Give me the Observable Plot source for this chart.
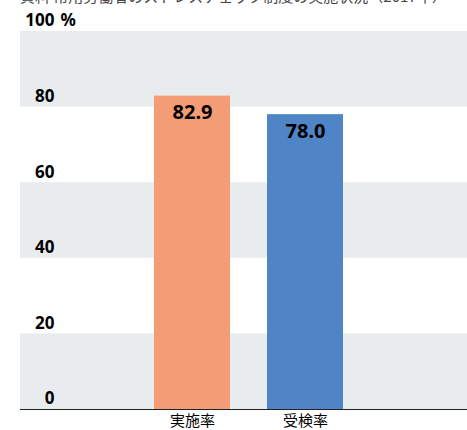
<!DOCTYPE html>
<html>
<head>
<meta charset="utf-8">
<script src="https://cdn.jsdelivr.net/npm/d3@7"></script>
<script src="https://cdn.jsdelivr.net/npm/@observablehq/plot@0.6"></script>
<style>
  html, body { margin: 0; padding: 0; background: #fff; }
  #title { height: 8px; overflow: hidden; position: relative; }
  #title span { position: absolute; left: 20px; top: -13px; font: 15px "Noto Sans CJK JP", sans-serif; color: #444; white-space: nowrap; line-height: 18px; }
  svg { display: block; }
</style>
</head>
<body>
<div id="title"><span>資料 常用労働者のストレスチェック制度の実施状況（2017年）</span></div>
<div id="chart"></div>
<script>
const categories = ["実施率", "受検率"];
const values = [82.9, 78.0];
const barColors = ["#F49C76", "#4F84C6"];
const yTicks = [0, 20, 40, 60, 80, 100];
const bandStarts = [0, 40, 80];
const bandSize = 20;

const data = categories.map((c, i) => ({name: c, value: values[i]}));
const bands = bandStarts.map(s => ({y1: s, y2: s + bandSize}));

const chart = Plot.plot({
  width: 467,
  height: 422,
  marginLeft: 20,
  marginRight: 0,
  marginTop: 23,
  marginBottom: 21,
  style: {fontFamily: "'Noto Sans', 'Noto Sans CJK JP', sans-serif", color: "#000", background: "#fff"},
  x: {domain: categories, paddingInner: 0.327, paddingOuter: 1.14, align: 0.52},
  y: {domain: [0, 100]},
  color: {domain: categories, range: barColors},
  marks: [
    Plot.rectY(bands, {y1: "y1", y2: "y2", fill: "#E9ECEF"}),
    Plot.barY(data, {x: "name", y: "value", fill: "name"}),
    Plot.text(data, {x: "name", y: "value", text: d => d.value.toFixed(1), lineAnchor: "top", dy: 9, fontSize: 20, fontWeight: "bold", fill: "#000"}),
    Plot.ruleY([0], {stroke: "#222", strokeWidth: 1.2}),
    Plot.axisY(yTicks, {tickSize: 0, tickPadding: 0, textAnchor: "end", dx: 34, dy: -10.5, fontSize: 17, fontWeight: "bold", label: null, fill: "#000"}),
    Plot.text([100], {y: d => d, text: () => "%", frameAnchor: "left", dx: 40, dy: -10.5, textAnchor: "start", fontSize: 17, fontWeight: "bold", fill: "#000"}),
    Plot.axisX({tickSize: 0, tickPadding: 6, fontSize: 15, label: null, fill: "#000", fontFamily: "'Noto Sans CJK JP', sans-serif"})
  ]
});
document.getElementById("chart").appendChild(chart);
</script>
</body>
</html>
